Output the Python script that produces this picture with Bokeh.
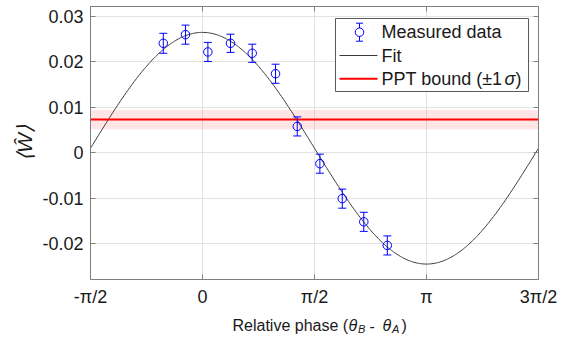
import numpy as np
from bokeh.plotting import figure
from bokeh.layouts import column
from bokeh.models import ColumnDataSource, Whisker, TeeHead, FixedTicker, LinearAxis, Range1d
from bokeh.core.properties import value
from bokeh.embed import file_html
from bokeh.resources import INLINE

# ---------------- data ----------------
phase_over_pi = [-0.175, -0.076, 0.024, 0.125, 0.222, 0.326, 0.423, 0.524, 0.624, 0.720, 0.825]
w_measured = [0.0241, 0.0260, 0.0222, 0.0241, 0.0219, 0.0174, 0.0058, -0.0024, -0.0101, -0.0152, -0.0204]
w_error = [0.0022, 0.0021, 0.0021, 0.0020, 0.0020, 0.0021, 0.0021, 0.0021, 0.0021, 0.0021, 0.0021]

fit_offset = 0.0010
fit_amplitude = 0.0255
fit_phase = 0.0

ppt_bound = 0.0073
ppt_sigma = 0.0021

x_ticks = [-np.pi / 2, 0.0, np.pi / 2, np.pi, 3 * np.pi / 2]
x_tick_labels = ["-π/2", "0", "π/2", "π", "3π/2"]
y_ticks = [-0.02, -0.01, 0.0, 0.01, 0.02, 0.03]
y_tick_labels = ["-0.02", "-0.01", "0", "0.01", "0.02", "0.03"]
x_limits = (-np.pi / 2, 3 * np.pi / 2)
y_limits = (-0.0279, 0.0322)

legend_labels = ["Measured data", "Fit", "PPT bound (±1", "σ", ")"]
y_label = "⟨Ŵ⟩"
x_label_parts = ["Relative phase (", "θ", "B", "-", "θ", "A", ")"]

# ---------------- styles / layout ----------------
FONT = "Liberation Sans"
BLUE = "#0000ff"
AXIS = "#7f7f7f"
TEXT = "#1a1a1a"
FIT_COLOR = "#3a3a3a"
W, H_TOTAL = 569, 337
H = 309                      # main plot height; the x-label strip fills the rest
H_LABEL = H_TOTAL - H
B_LEFT, B_RIGHT, B_TOP = 90, 31, 6
B_BOTTOM = H - 279
FRAME_W = W - B_LEFT - B_RIGHT
FRAME_H = H - B_TOP - B_BOTTOM

x_data = np.array(phase_over_pi) * np.pi
w = np.array(w_measured)
e = np.array(w_error)
data_src = ColumnDataSource(dict(x=x_data, y=w, lower=w - e, upper=w + e))

x_fit = np.linspace(x_limits[0], x_limits[1], 400)
y_fit = fit_offset + fit_amplitude * np.cos(x_fit - fit_phase)

p = figure(width=W, height=H, title=None,
           x_range=Range1d(*x_limits), y_range=Range1d(*y_limits),
           output_backend="svg", toolbar_location=None,
           min_border_left=B_LEFT, min_border_right=B_RIGHT,
           min_border_top=B_TOP, min_border_bottom=B_BOTTOM)
p.background_fill_color = "white"
p.border_fill_color = "white"
p.outline_line_color = None

# band and bound line
band_x = list(x_limits)
p.varea(x=band_x, y1=[ppt_bound - ppt_sigma] * 2, y2=[ppt_bound + ppt_sigma] * 2,
        fill_color="#ff0000", fill_alpha=0.10)
p.line(x_fit, y_fit, line_color=FIT_COLOR, line_width=1)
p.line(band_x, [ppt_bound] * 2, line_color="#ff0000", line_width=2)

# error bars and markers
wh = Whisker(base="x", lower="lower", upper="upper", source=data_src, dimension="height",
             line_color=BLUE, line_width=1,
             upper_head=TeeHead(size=8, line_color=BLUE, line_width=1),
             lower_head=TeeHead(size=8, line_color=BLUE, line_width=1))
wh.level = "glyph"
p.add_layout(wh)
p.scatter("x", "y", source=data_src, marker="circle", size=8.5,
          fill_color=None, line_color=BLUE, line_width=1)

# axes
def style_axis(ax, show_labels=True):
    ax.axis_line_color = AXIS
    ax.axis_line_width = 1
    ax.major_tick_line_color = AXIS
    ax.major_tick_in = 5
    ax.major_tick_out = 0
    ax.minor_tick_line_color = None
    ax.major_label_text_font = FONT
    ax.major_label_text_color = TEXT
    if show_labels:
        ax.major_label_text_font_size = "18px"
    else:
        ax.major_label_text_font_size = "0px"
        ax.major_label_standoff = 0

xa = p.xaxis[0]
xa.ticker = FixedTicker(ticks=x_ticks)
xa.major_label_overrides = {t: l for t, l in zip(x_ticks, x_tick_labels)}
style_axis(xa)
xa.major_label_standoff = 7

ya = p.yaxis[0]
ya.ticker = FixedTicker(ticks=y_ticks)
ya.major_label_overrides = {t: l for t, l in zip(y_ticks, y_tick_labels)}
style_axis(ya)
ya.major_label_standoff = 7
ya.axis_label = y_label
ya.axis_label_text_font = FONT
ya.axis_label_text_font_style = "italic"
ya.axis_label_text_font_size = "21px"
ya.axis_label_text_color = TEXT
ya.axis_label_standoff = 3

top_ax = LinearAxis(ticker=FixedTicker(ticks=x_ticks),
                    major_label_overrides={t: "" for t in x_ticks})
style_axis(top_ax, show_labels=False)
p.add_layout(top_ax, "above")
right_ax = LinearAxis(ticker=FixedTicker(ticks=y_ticks),
                      major_label_overrides={t: "" for t in y_ticks})
style_axis(right_ax, show_labels=False)
p.add_layout(right_ax, "right")

p.xgrid.ticker = FixedTicker(ticks=x_ticks)
p.ygrid.ticker = FixedTicker(ticks=y_ticks)
for g in (p.xgrid, p.ygrid):
    g.grid_line_color = "#e3e3e3"
    g.grid_line_width = 1

# ---------------- legend (drawn from pixel geometry of the frame) ----------------
def px_x(px):  # window px -> data x
    return x_limits[0] + (px - B_LEFT) / FRAME_W * (x_limits[1] - x_limits[0])

def px_y(py):  # window px -> data y
    return y_limits[1] - (py - B_TOP) / FRAME_H * (y_limits[1] - y_limits[0])

lg_l, lg_r, lg_t, lg_b = 335, 528, 18, 91
row_y = [31.7, 55.0, 78.3]
g_x0, g_x1, txt_x = 339, 377, 381
g_cx = (g_x0 + g_x1) / 2 + 1

p.quad(left=[px_x(lg_l)], right=[px_x(lg_r)], top=[px_y(lg_t)], bottom=[px_y(lg_b)],
       fill_color="white", line_color="#5a5a5a", line_width=1)
# error-bar symbol
bar_half, cap_half = 9, 3.5
p.segment(x0=[px_x(g_cx)] * 3,
          y0=[px_y(row_y[0] - bar_half), px_y(row_y[0] - bar_half), px_y(row_y[0] + bar_half)],
          x1=[px_x(g_cx), px_x(g_cx + cap_half), px_x(g_cx + cap_half)],
          y1=[px_y(row_y[0] + bar_half), px_y(row_y[0] - bar_half), px_y(row_y[0] + bar_half)],
          line_color=BLUE, line_width=1)
p.segment(x0=[px_x(g_cx - cap_half)] * 2, y0=[px_y(row_y[0] - bar_half), px_y(row_y[0] + bar_half)],
          x1=[px_x(g_cx)] * 2, y1=[px_y(row_y[0] - bar_half), px_y(row_y[0] + bar_half)],
          line_color=BLUE, line_width=1)
p.scatter([px_x(g_cx)], [px_y(row_y[0])], marker="circle", size=8.5,
          fill_color="white", line_color=BLUE, line_width=1)
p.line([px_x(g_x0), px_x(g_x1)], [px_y(row_y[1])] * 2, line_color=FIT_COLOR, line_width=1)
p.line([px_x(g_x0), px_x(g_x1)], [px_y(row_y[2])] * 2, line_color="#ff0000", line_width=2)

lg_text = dict(text_font=value(FONT), text_font_size="18px", text_color=TEXT,
               text_align="left", text_baseline="middle")
p.text(x=[px_x(txt_x)] * 3, y=[px_y(r) for r in row_y],
       text=[legend_labels[0], legend_labels[1], legend_labels[2]], **lg_text)
p.text(x=[px_x(txt_x + 123)], y=[px_y(row_y[2])], text=[legend_labels[3]],
       text_font_style="italic", **lg_text)
p.text(x=[px_x(txt_x + 134)], y=[px_y(row_y[2])], text=[legend_labels[4]], **lg_text)

# ---------------- x-axis label strip (below the plot) ----------------
# its frame is aligned with the main plot's frame; ranges are in window pixels
q = figure(width=W, height=H_LABEL, x_range=Range1d(B_LEFT, W - B_RIGHT),
           y_range=Range1d(H_TOTAL, H),
           output_backend="svg", toolbar_location=None, title=None,
           x_axis_type=None, y_axis_type=None, min_border=0,
           min_border_left=B_LEFT, min_border_right=B_RIGHT)
q.grid.visible = False
q.outline_line_color = None
q.background_fill_color = "white"
q.border_fill_color = "white"

base_y = 325
sub_y = base_y + 3
x0 = 232
parts_x = [x0, x0 + 116, x0 + 125.5, x0 + 137, x0 + 150, x0 + 159.5, x0 + 169]
parts_y = [base_y, base_y, sub_y, base_y, base_y, sub_y, base_y]
parts_size = ["16px", "16px", "11px", "16px", "16px", "11px", "16px"]
parts_style = ["normal", "italic", "italic", "normal", "italic", "italic", "normal"]
for txt, xx, yy, fs, st in zip(x_label_parts, parts_x, parts_y, parts_size, parts_style):
    q.text(x=[xx], y=[yy], text=[txt], text_font=value(FONT), text_font_size=fs,
           text_font_style=st, text_color=TEXT, text_align="left", text_baseline="alphabetic")

page = column(p, q, spacing=0)
open("out.html", "w").write(file_html(page, INLINE))
